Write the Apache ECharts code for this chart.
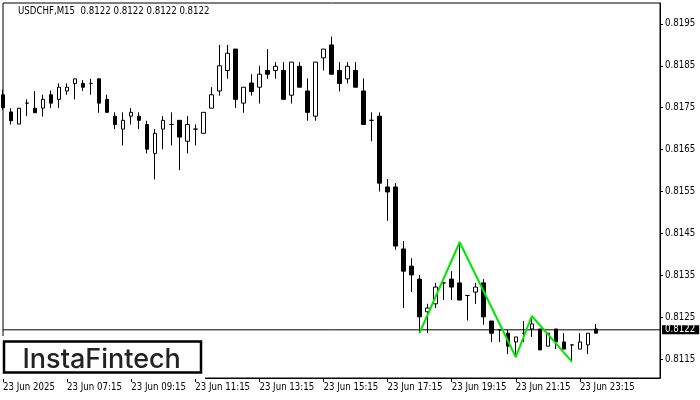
<!DOCTYPE html>
<html><head><meta charset="utf-8">
<script src="https://cdn.jsdelivr.net/npm/echarts@6/dist/echarts.min.js"></script>
<style>html,body{margin:0;padding:0;background:#fff}#c{width:700px;height:400px}</style>
</head><body><div id="c"></div>
<script>
const chartTitle = 'USDCHF,M15  0.8122 0.8122 0.8122 0.8122';
const logoText = 'InstaFintech';
const opens = [0.81781,0.81740,0.81711,0.81761,0.81749,0.81749,0.81781,0.81770,0.81790,0.81808,
  0.81808,0.81808,0.81819,0.81770,0.81730,0.81699,0.81730,0.81730,0.81710,0.81641,
  0.81699,0.81710,0.81720,0.81670,0.81699,0.81689,0.81749,0.81790,0.81839,0.81890,
  0.81761,0.81809,0.81799,0.81839,0.81839,0.81839,0.81780,0.81849,0.81790,0.81730,
  0.81869,0.81900,0.81839,0.81819,0.81839,0.81790,0.81720,0.81730,0.81561,0.81561,
  0.81413,0.81372,0.81341,0.81263,0.81282,0.81332,0.81341,0.81332,0.81302,0.81310,
  0.81332,0.81241,0.81220,0.81212,0.81191,0.81212,0.81222,0.81222,0.81181,0.81222,
  0.81191,0.81184,0.81174,0.81184,0.81222];
const closes = [0.81750,0.81719,0.81749,0.81761,0.81738,0.81770,0.81761,0.81799,0.81799,0.81819,
  0.81799,0.81808,0.81761,0.81739,0.81710,0.81720,0.81739,0.81720,0.81651,0.81689,
  0.81720,0.81710,0.81680,0.81710,0.81699,0.81739,0.81781,0.81850,0.81880,0.81770,
  0.81799,0.81789,0.81830,0.81830,0.81849,0.81770,0.81859,0.81799,0.81739,0.81859,
  0.81890,0.81830,0.81808,0.81849,0.81799,0.81710,0.81720,0.81570,0.81549,0.81420,
  0.81360,0.81351,0.81251,0.81272,0.81322,0.81332,0.81322,0.81291,0.81302,0.81322,
  0.81251,0.81212,0.81220,0.81181,0.81203,0.81212,0.81234,0.81172,0.81212,0.81191,
  0.81174,0.81184,0.81191,0.81212,0.81212];
const lows = [0.81745,0.81710,0.81711,0.81730,0.81738,0.81729,0.81749,0.81749,0.81781,0.81770,
  0.81790,0.81781,0.81738,0.81739,0.81699,0.81660,0.81710,0.81699,0.81641,0.81579,
  0.81651,0.81660,0.81601,0.81641,0.81660,0.81689,0.81749,0.81779,0.81819,0.81749,
  0.81738,0.81779,0.81760,0.81819,0.81819,0.81770,0.81760,0.81799,0.81719,0.81719,
  0.81839,0.81830,0.81789,0.81808,0.81799,0.81710,0.81670,0.81550,0.81480,0.81411,
  0.81272,0.81310,0.81212,0.81212,0.81272,0.81291,0.81291,0.81291,0.81242,0.81282,
  0.81232,0.81191,0.81191,0.81162,0.81155,0.81191,0.81203,0.81172,0.81181,0.81174,
  0.81174,0.81143,0.81174,0.81162,0.81212];
const highs = [0.81793,0.81749,0.81749,0.81770,0.81790,0.81781,0.81791,0.81808,0.81808,0.81819,
  0.81816,0.81819,0.81819,0.81781,0.81739,0.81739,0.81749,0.81739,0.81719,0.81699,
  0.81730,0.81739,0.81720,0.81730,0.81710,0.81739,0.81799,0.81900,0.81900,0.81890,
  0.81799,0.81830,0.81850,0.81890,0.81859,0.81859,0.81859,0.81859,0.81820,0.81859,
  0.81890,0.81920,0.81859,0.81859,0.81859,0.81820,0.81739,0.81739,0.81580,0.81570,
  0.81432,0.81391,0.81351,0.81282,0.81332,0.81332,0.81360,0.81430,0.81302,0.81332,
  0.81341,0.81241,0.81220,0.81220,0.81203,0.81241,0.81251,0.81222,0.81212,0.81222,
  0.81212,0.81184,0.81212,0.81212,0.81234];
const xTickLabels = ['23 Jun 2025','23 Jun 07:15','23 Jun 09:15','23 Jun 11:15','23 Jun 13:15',
  '23 Jun 15:15','23 Jun 17:15','23 Jun 19:15','23 Jun 21:15','23 Jun 23:15'];
const yTickValues = [0.8115,0.8125,0.8135,0.8145,0.8155,0.8165,0.8175,0.8185,0.8195];
const bidPrice = 0.8122;
const patternX = [52,57,64,66,71];
const patternY = [0.81213,0.81429,0.81155,0.81253,0.81144];
const slotCount = 83;
const barsPerLabel = 8;

const categories = [];
for (let i = 0; i < slotCount; i++) categories.push(String(i));
const candleData = opens.map((o, i) => [o, closes[i], lows[i], highs[i]]);
const patternData = patternX.map((x, i) => [x, patternY[i]]);
const bidData = [[0, bidPrice], [slotCount - 1, bidPrice]];
const labelEvery = (idx) => idx % barsPerLabel === 0 && idx / barsPerLabel < xTickLabels.length;

const chart = echarts.init(document.getElementById('c'), null, {renderer: 'canvas'});
const font = '"DejaVu Sans Condensed", "DejaVu Sans", sans-serif';
const fs = 9.6;
chart.setOption({
  animation: false,
  backgroundColor: '#fff',
  title: {text: chartTitle, left: 18, top: 6, padding: 0,
    textStyle: {fontSize: fs, fontWeight: 'normal', color: '#000', fontFamily: font}},
  grid: {left: 3, right: 40, top: 3, bottom: 22, show: true, borderColor: '#000', borderWidth: 1, backgroundColor: '#fff'},
  xAxis: {
    type: 'category', data: categories, boundaryGap: false,
    axisLine: {show: true, lineStyle: {color: '#000', width: 1}},
    axisTick: {show: true, interval: (i) => labelEvery(i), length: 4, lineStyle: {color: '#000'}},
    axisLabel: {show: true, interval: (i) => labelEvery(i), hideOverlap: false,
      formatter: (v, idx) => xTickLabels[idx / barsPerLabel] || '',
      align: 'left', margin: 4, fontSize: fs, color: '#000', fontFamily: font},
    splitLine: {show: false}
  },
  yAxis: {
    type: 'value', position: 'right', min: 0.81105, max: 0.82000, scale: true,
    axisLine: {show: true, lineStyle: {color: '#000', width: 1}},
    axisTick: {show: true, customValues: yTickValues, length: 3, lineStyle: {color: '#000'}},
    axisLabel: {show: true, customValues: yTickValues, formatter: (v) => v.toFixed(4),
      margin: 5, fontSize: fs, color: '#000', fontFamily: font},
    splitLine: {show: false}
  },
  series: [
    {
      type: 'line', data: bidData, symbol: 'none', silent: true, z: 1,
      lineStyle: {color: '#000', width: 1},
      endLabel: {show: true, formatter: () => bidPrice.toFixed(4), distance: 2,
        backgroundColor: '#000', color: '#fff', fontSize: fs, fontFamily: font, padding: [0, 4, 0, 3], lineHeight: 9}
    },
    {
      type: 'candlestick', data: candleData, barWidth: 4, clip: true, z: 2,
      itemStyle: {color: '#fff', color0: '#000', borderColor: '#000', borderColor0: '#000', borderWidth: 1}
    },
    {
      type: 'line', data: patternData, symbol: 'none', silent: true,
      lineStyle: {color: '#00e600', width: 2}, z: 5
    }
  ],
  graphic: [
    {type: 'rect', z: 100, shape: {x: 0, y: 336, width: 205, height: 43}, style: {fill: '#fff'}},
    {type: 'rect', z: 101, shape: {x: 4, y: 341.5, width: 197, height: 31}, style: {fill: '#fff', stroke: '#000', lineWidth: 2.5}},
    {type: 'text', z: 102, x: 22.5, y: 359.5, style: {text: logoText, font: '500 27px Inter', fill: '#222', align: 'left', verticalAlign: 'middle'}}
  ]
});
</script></body></html>
